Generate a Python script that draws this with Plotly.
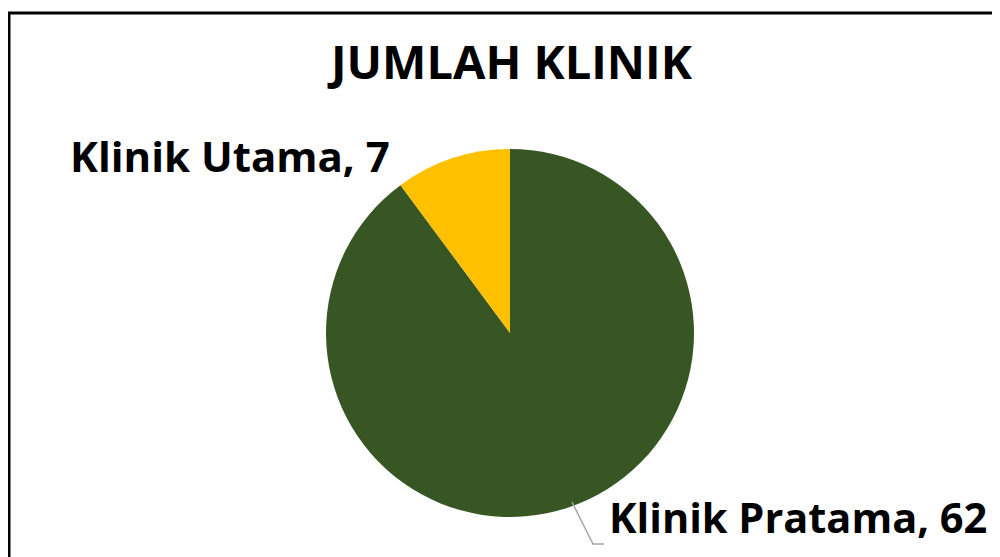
import plotly.graph_objects as go

categories = ["Klinik Utama", "Klinik Pratama"]
values = [7, 62]
colors = ["#FFC000", "#375623"]
title_text = "JUMLAH KLINIK"

# page body has an 8px margin, so figure is sized to fill the remaining window
OFF = 8
W, H = 1000 - OFF, 557 - OFF


def px(x):
    return (x - OFF) / W


def py(y):
    return 1 - (y - OFF) / H


cx, cy, r = 510, 333, 184

fig = go.Figure()
fig.add_trace(go.Pie(
    labels=categories[::-1],
    values=values[::-1],
    marker=dict(colors=colors[::-1], line=dict(width=0)),
    sort=False,
    direction="clockwise",
    rotation=0,
    textinfo="none",
    hoverinfo="label+value",
    domain=dict(x=[px(cx - r), px(cx + r)], y=[py(cy + r), py(cy - r)]),
    showlegend=False,
))

font_family = "'Open Sans', sans-serif"
fig.add_annotation(text="<b>%s</b>" % title_text, x=px(510), y=py(61), xref="paper", yref="paper",
                   showarrow=False, font=dict(family=font_family, size=47, color="#000000"),
                   xanchor="center", yanchor="middle")
fig.add_annotation(text="<b>%s, %d</b>" % (categories[0], values[0]), x=px(230), y=py(155),
                   xref="paper", yref="paper", showarrow=False,
                   font=dict(family=font_family, size=42, color="#000000"),
                   xanchor="center", yanchor="middle")
fig.add_annotation(text="<b>%s, %d</b>" % (categories[1], values[1]), x=px(798), y=py(517),
                   xref="paper", yref="paper", showarrow=False,
                   font=dict(family=font_family, size=41.5, color="#000000"),
                   xanchor="center", yanchor="middle")

# leader line
fig.add_shape(type="path", xref="paper", yref="paper",
              path="M %f %f L %f %f L %f %f" % (px(572), py(502), px(593), py(544), px(604), py(544)),
              line=dict(color="#A6A6A6", width=1.5))
# chart border
fig.add_shape(type="rect", xref="paper", yref="paper",
              x0=px(9), x1=1.05, y0=-0.05, y1=py(13),
              line=dict(color="#000000", width=3), layer="above")

fig.update_layout(width=W, height=H, margin=dict(l=0, r=0, t=0, b=0),
                  paper_bgcolor="#FFFFFF", plot_bgcolor="#FFFFFF")
fig.write_html("out.html")
